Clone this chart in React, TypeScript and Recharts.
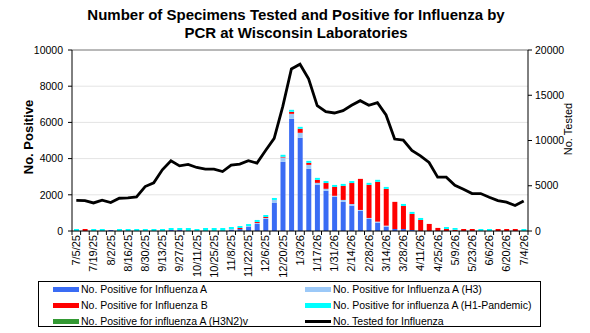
import React from 'react';
import { ComposedChart, Bar, Line, XAxis, YAxis, CartesianGrid, ReferenceLine } from 'recharts';

// Week-ending dates, 7/5/25 through 7/4/26
const weeks = [
  '7/5/25', '7/12/25', '7/19/25', '7/26/25', '8/2/25', '8/9/25', '8/16/25', '8/23/25', '8/30/25', '9/6/25',
  '9/13/25', '9/20/25', '9/27/25', '10/4/25', '10/11/25', '10/18/25', '10/25/25', '11/1/25', '11/8/25', '11/15/25',
  '11/22/25', '11/29/25', '12/6/25', '12/13/25', '12/20/25', '12/27/25', '1/3/26', '1/10/26', '1/17/26', '1/24/26',
  '1/31/26', '2/7/26', '2/14/26', '2/21/26', '2/28/26', '3/7/26', '3/14/26', '3/21/26', '3/28/26', '4/4/26',
  '4/11/26', '4/18/26', '4/25/26', '5/2/26', '5/9/26', '5/16/26', '5/23/26', '5/30/26', '6/6/26', '6/13/26',
  '6/20/26', '6/27/26', '7/4/26',
];

// No. positive for influenza A (unsubtyped)
const fluA = [
  0, 0, 0, 0, 55, 0, 0, 0, 0, 0,
  0, 55, 55, 0, 0, 0, 0, 0, 55, 110,
  220, 390, 665, 1550, 3820, 6200, 5150, 3435, 2550, 2220,
  1890, 1607, 1400, 1108, 665, 462, 240, 110, 110, 55,
  0, 0, 0, 0, 0, 0, 0, 0, 0, 0,
  0, 0, 0,
];

// No. positive for influenza A (H3)
const fluAH3 = [
  0, 0, 0, 0, 0, 0, 0, 0, 0, 0,
  0, 0, 0, 0, 0, 0, 0, 0, 55, 0,
  55, 55, 55, 165, 240, 275, 275, 220, 110, 110,
  55, 110, 90, 55, 55, 55, 55, 0, 0, 0,
  0, 0, 0, 0, 0, 0, 0, 0, 0, 0,
  0, 0, 0,
];

// No. positive for influenza B
const fluB = [
  0, 110, 0, 0, 0, 0, 0, 0, 0, 0,
  0, 0, 0, 0, 0, 0, 0, 0, 0, 55,
  0, 55, 55, 0, 40, 110, 220, 110, 165, 320,
  490, 775, 1160, 1717, 1830, 2200, 2030, 1500, 1275, 890,
  610, 390, 170, 110, 65, 110, 110, 0, 0, 110,
  110, 110, 0,
];

// No. positive for influenza A (H1-Pandemic)
const fluAH1 = [
  110, 0, 110, 110, 0, 110, 110, 110, 110, 110,
  110, 110, 110, 165, 110, 165, 165, 165, 110, 110,
  110, 110, 110, 110, 110, 110, 110, 110, 110, 110,
  110, 110, 110, 0, 110, 110, 110, 0, 110, 110,
  110, 0, 0, 110, 100, 0, 0, 110, 110, 0,
  0, 0, 110,
];

// No. positive for influenza A (H3N2)v
const fluAH3N2v = [
  0, 0, 0, 0, 0, 0, 0, 0, 0, 0,
  0, 0, 0, 0, 0, 0, 0, 0, 0, 0,
  0, 0, 0, 0, 0, 0, 0, 0, 0, 0,
  0, 0, 0, 0, 0, 0, 0, 0, 0, 0,
  0, 0, 0, 0, 0, 0, 0, 0, 0, 0,
  0, 0, 0,
];

// No. of specimens tested for influenza
const tested = [
  3380, 3360, 3100, 3400, 3140, 3620, 3660, 3770, 4910, 5320,
  6760, 7760, 7200, 7350, 7020, 6830, 6830, 6570, 7280, 7390,
  7760, 7500, 8900, 10230, 13770, 17910, 18430, 16810, 13850, 13190,
  13040, 13300, 13890, 14400, 13890, 14180, 12820, 10160, 10050, 8900,
  8310, 7570, 5950, 5950, 5060, 4620, 4140, 4140, 3730, 3360,
  3180, 2810, 3320,
];

const positiveTicks = [0, 2000, 4000, 6000, 8000, 10000];
const testedTicks = [0, 5000, 10000, 15000, 20000];

const data = weeks.map((week, i) => ({
  week,
  fluA: fluA[i],
  fluAH3: fluAH3[i],
  fluB: fluB[i],
  fluAH1: fluAH1[i],
  fluAH3N2v: fluAH3N2v[i],
  tested: tested[i],
}));

const COLORS = {
  fluA: '#3A6CF4',
  fluAH3: '#9CC9F8',
  fluB: '#FF0000',
  fluAH1: '#00FFFF',
  fluAH3N2v: '#339933',
  tested: '#000000',
};

const FONT = 'Arial, "Liberation Sans", sans-serif';
const WIDTH = 590;
const HEIGHT = 333;
const LEFT_AXIS_W = 72;
const RIGHT_AXIS_W = 62;
const PLOT_W = WIDTH - LEFT_AXIS_W - RIGHT_AXIS_W;
const BAND = PLOT_W / weeks.length;

// Category ticks sit on band boundaries; every other week gets a date label
function WeekTick(props: any) {
  const { x, y, payload } = props;
  const i = payload?.index ?? props.index ?? 0;
  const half = BAND / 2;
  const ty = y + 4;
  return (
    <g>
      <line x1={x - half} x2={x - half} y1={y} y2={y + 4} stroke="#000" strokeWidth={1} />
      {i === weeks.length - 1 && (
        <line x1={x + half} x2={x + half} y1={y} y2={y + 4} stroke="#000" strokeWidth={1} />
      )}
      {i % 2 === 0 && (
        <text
          x={x}
          y={ty}
          dy="0.35em"
          textAnchor="end"
          transform={`rotate(-90, ${x}, ${ty})`}
          fontSize={11}
          fontFamily={FONT}
          fill="#000"
        >
          {payload.value}
        </text>
      )}
    </g>
  );
}

const legendItems = [
  { label: 'No. Positive for Influenza A', color: COLORS.fluA, line: false, col: 0, row: 0 },
  { label: 'No. Positive for Influenza A (H3)', color: COLORS.fluAH3, line: false, col: 1, row: 0 },
  { label: 'No. Positive for Influenza B', color: COLORS.fluB, line: false, col: 0, row: 1 },
  { label: 'No. Positive for influenza A (H1-Pandemic)', color: COLORS.fluAH1, line: false, col: 1, row: 1 },
  { label: 'No. Positive for influenza A (H3N2)v', color: COLORS.fluAH3N2v, line: false, col: 0, row: 2 },
  { label: 'No. Tested for Influenza', color: COLORS.tested, line: true, col: 1, row: 2 },
];

function LegendBox() {
  const colX = [53, 305];
  const rowY = [289, 305, 321];
  return (
    <>
      <div
        style={{
          position: 'absolute',
          left: 38,
          top: 281,
          width: 503,
          height: 46,
          border: '1px solid #000',
          boxSizing: 'border-box',
        }}
      />
      {legendItems.map((it) => (
        <div
          key={it.label}
          style={{
            position: 'absolute',
            left: colX[it.col],
            top: rowY[it.row] - 7,
            height: 14,
            display: 'flex',
            alignItems: 'center',
            whiteSpace: 'nowrap',
            fontFamily: FONT,
            fontSize: 10.5,
            color: '#000',
          }}
        >
          <span
            style={{
              display: 'inline-block',
              width: 26,
              height: it.line ? 3 : 5,
              background: it.color,
              marginRight: 2,
            }}
          />
          <span>{it.label}</span>
        </div>
      ))}
    </>
  );
}

export default function App() {
  return (
    <div
      style={{
        position: 'fixed',
        left: 0,
        top: 0,
        width: WIDTH,
        height: HEIGHT,
        background: '#fff',
        overflow: 'hidden',
      }}
    >
      <div
        style={{
          position: 'absolute',
          left: 0,
          top: 6,
          width: 592,
          textAlign: 'center',
          fontFamily: FONT,
          fontWeight: 'bold',
          fontSize: 15,
          lineHeight: '18px',
          color: '#000',
        }}
      >
        Number of Specimens Tested and Positive for Influenza by
        <br />
        PCR at Wisconsin Laboratories
      </div>

      <ComposedChart
        width={WIDTH}
        height={HEIGHT}
        data={data}
        margin={{ top: 50, right: 0, bottom: 0, left: 0 }}
        barSize={5}
        style={{ position: 'absolute', left: 0, top: 0 }}
      >
        <CartesianGrid yAxisId="left" vertical={false} stroke="#e4e4e4" />
        <XAxis
          dataKey="week"
          height={102}
          interval={0}
          tickLine={false}
          tickSize={0}
          tickMargin={0}
          axisLine={{ stroke: '#000' }}
          tick={<WeekTick />}
        />
        <YAxis
          yAxisId="left"
          orientation="left"
          width={LEFT_AXIS_W}
          domain={[0, 10000]}
          ticks={positiveTicks}
          allowDataOverflow
          tickSize={4}
          tickMargin={5}
          axisLine={{ stroke: '#000' }}
          tickLine={{ stroke: '#000' }}
          tick={{ fontSize: 10.5, fontFamily: FONT, fill: '#000' }}
        />
        <YAxis
          yAxisId="right"
          orientation="right"
          width={RIGHT_AXIS_W}
          domain={[0, 20000]}
          ticks={testedTicks}
          allowDataOverflow
          tickSize={4}
          tickMargin={3}
          axisLine={{ stroke: '#000' }}
          tickLine={{ stroke: '#000' }}
          tick={{ fontSize: 10.5, fontFamily: FONT, fill: '#000', textAnchor: 'start' }}
        />
        <ReferenceLine yAxisId="left" y={10000} stroke="#808080" strokeWidth={1} />
        <Bar yAxisId="left" dataKey="fluA" stackId="pos" fill={COLORS.fluA} isAnimationActive={false} />
        <Bar yAxisId="left" dataKey="fluAH3" stackId="pos" fill={COLORS.fluAH3} isAnimationActive={false} />
        <Bar yAxisId="left" dataKey="fluB" stackId="pos" fill={COLORS.fluB} isAnimationActive={false} />
        <Bar yAxisId="left" dataKey="fluAH1" stackId="pos" fill={COLORS.fluAH1} isAnimationActive={false} />
        <Bar yAxisId="left" dataKey="fluAH3N2v" stackId="pos" fill={COLORS.fluAH3N2v} isAnimationActive={false} />
        <Line
          yAxisId="right"
          dataKey="tested"
          type="linear"
          stroke={COLORS.tested}
          strokeWidth={2.8}
          dot={false}
          activeDot={false}
          isAnimationActive={false}
        />
      </ComposedChart>

      <div
        style={{
          position: 'absolute',
          left: 27.5,
          top: 137,
          transform: 'translate(-50%, -50%) rotate(-90deg)',
          whiteSpace: 'nowrap',
          fontFamily: FONT,
          fontWeight: 'bold',
          fontSize: 13,
          color: '#000',
        }}
      >
        No. Positive
      </div>
      <div
        style={{
          position: 'absolute',
          left: 568,
          top: 128.5,
          transform: 'translate(-50%, -50%) rotate(-90deg)',
          whiteSpace: 'nowrap',
          fontFamily: FONT,
          fontSize: 11,
          color: '#000',
        }}
      >
        No. Tested
      </div>

      <LegendBox />
    </div>
  );
}
